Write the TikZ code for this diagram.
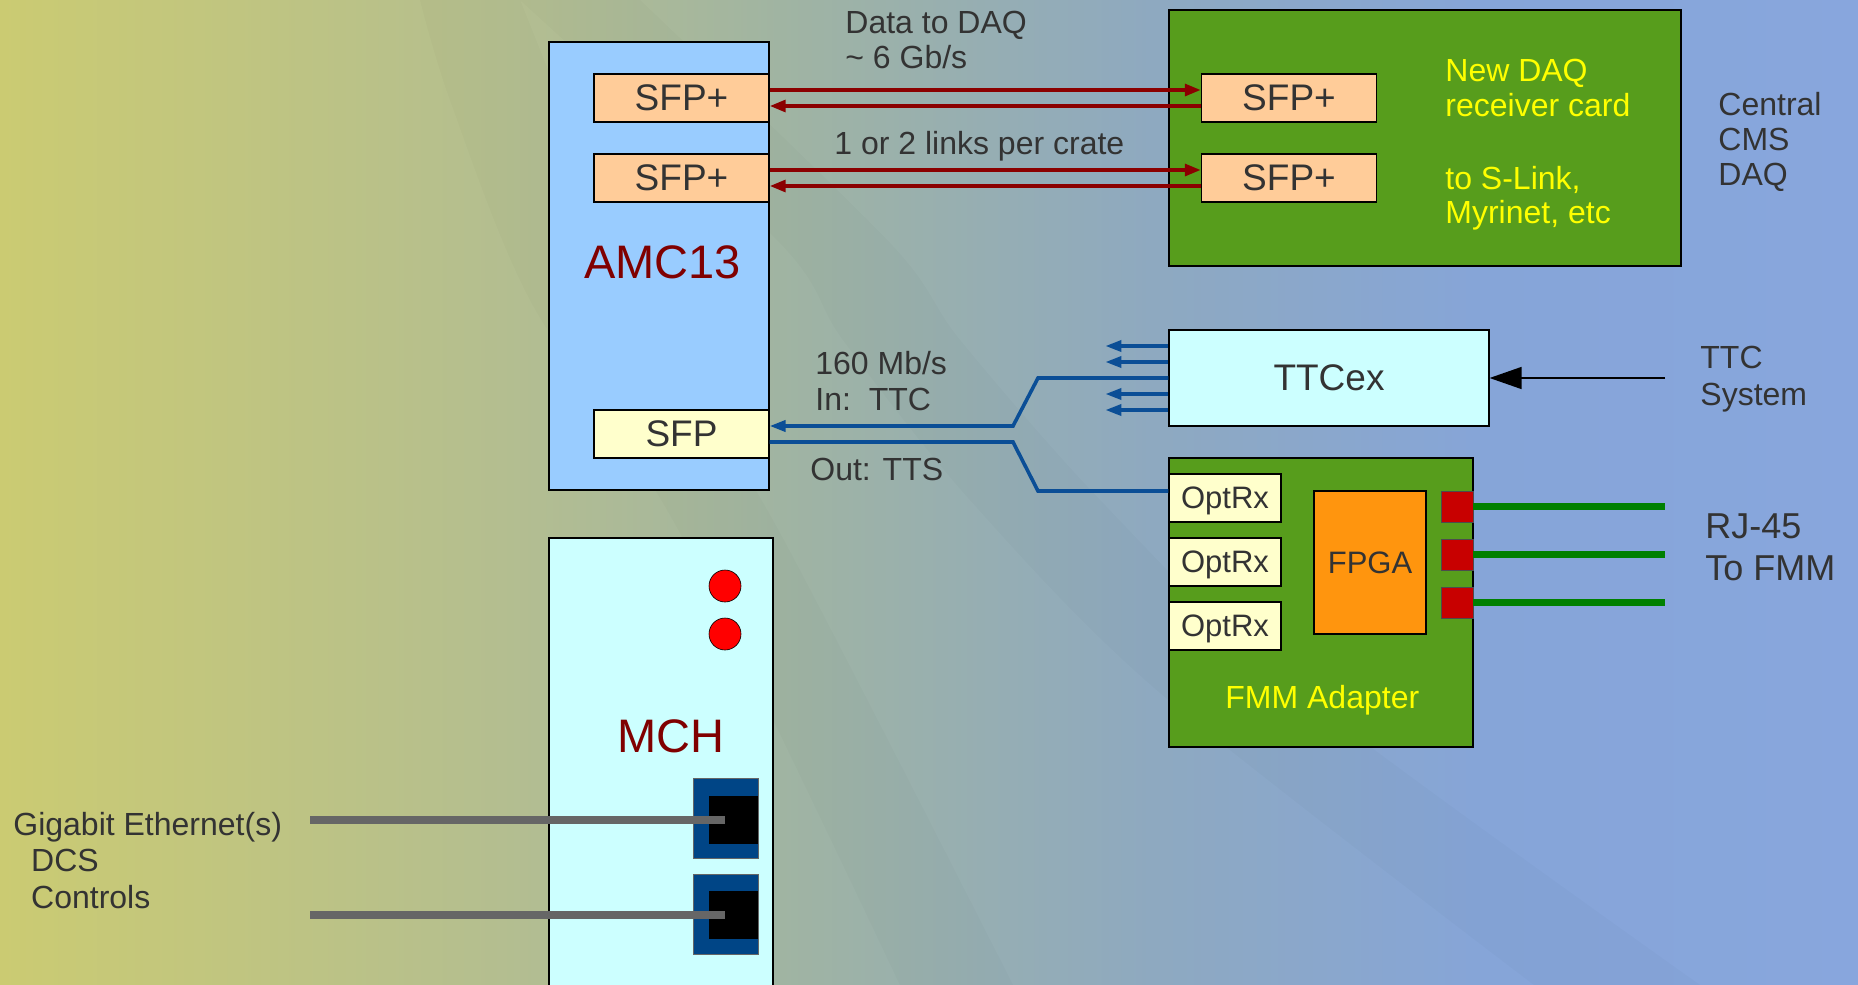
\documentclass[tikz,border=0pt]{standalone}
\usepackage{fontspec}
\setmainfont{Liberation Sans}
\usetikzlibrary{arrows.meta,calc}
\definecolor{bg0}{HTML}{CBCB72}
\definecolor{bg1}{HTML}{B2BD92}
\definecolor{bg2}{HTML}{A0B4A2}
\definecolor{bg3}{HTML}{8EA9C0}
\definecolor{bg4}{HTML}{86A5D8}
\definecolor{bg5}{HTML}{88A6DD}
\definecolor{txt}{HTML}{333333}
\definecolor{darkred}{HTML}{800000}
\definecolor{arrred}{HTML}{8B0000}
\definecolor{amcblue}{HTML}{99CCFF}
\definecolor{sfpor}{HTML}{FFCC99}
\definecolor{sfpyel}{HTML}{FFFFCC}
\definecolor{daqgreen}{HTML}{579D1C}
\definecolor{cyanl}{HTML}{CCFFFF}
\definecolor{fpgaor}{HTML}{FF950E}
\definecolor{rjred}{HTML}{C80000}
\definecolor{blueline}{HTML}{0B4E96}
\definecolor{connblue}{HTML}{004586}
\definecolor{cablegray}{HTML}{666666}
\definecolor{cablegreen}{HTML}{008000}
\definecolor{yel}{HTML}{FFFF00}
\pgfdeclarehorizontalshading{bgshade}{100bp}{color(0bp)=(bg0); color(25bp)=(bg0); color(39.5bp)=(bg1); color(46bp)=(bg2); color(56bp)=(bg3); color(65bp)=(bg4); color(75bp)=(bg5); color(100bp)=(bg5)}
\newcommand\mlines[1]{\begin{tabular}[t]{@{}l@{}}#1\end{tabular}}
\begin{document}
\begin{tikzpicture}[x=0.5pt,y=-0.5pt,
  box/.style={draw=black,line width=0.6pt,inner sep=0pt,text depth=0pt,text=txt},
  board/.style={draw=black,line width=0.6pt,inner sep=0pt},
  sfpbox/.style={box,fill=sfpor,minimum width=87.5pt,minimum height=24pt,font=\fontsize{18.5}{20}\selectfont},
  optbox/.style={box,fill=sfpyel,minimum width=56pt,minimum height=24pt,font=\fontsize{15.5}{18}\selectfont},
  rjbox/.style={fill=rjred,draw=black!70,line width=0.3pt,minimum width=16pt,minimum height=15.5pt,inner sep=0pt},
  lbl/.style={anchor=base west,inner sep=0pt,text=txt,font=\fontsize{16}{17.75}\selectfont},
  ylbl/.style={lbl,text=yel},
  title/.style={anchor=base west,inner sep=0pt,text=darkred,font=\fontsize{23.5}{26}\selectfont},
  redarr/.style={draw=arrred,line width=1.9pt,-{Triangle[length=8pt,width=5.8pt]}},
  bline/.style={draw=blueline,line width=1.8pt},
  barr/.style={bline,-{Triangle[length=8pt,width=5.5pt]}},
  led/.style={circle,fill=red,draw=black,line width=0.3pt,minimum size=16pt,inner sep=0pt},
  graycable/.style={draw=cablegray,line width=3.8pt},
  greencable/.style={draw=cablegreen,line width=3.5pt},
  swoosh/.style={fill=black,opacity=0.016}
]
\useasboundingbox (0,0) rectangle (1858,985);
\clip (0,0) rectangle (1858,985);
\shade[shading=bgshade] (0,0) rectangle (1858,985);
% faint background swooshes
\fill[swoosh] plot[smooth] coordinates {(520,0) (780,243) (843,340) (970,500) (1160,693) (1534,985)}
  -- plot[smooth] coordinates {(1700,985) (1300,693) (1100,500) (960,340) (890,243) (640,0)} -- cycle;
\fill[swoosh] plot[smooth] coordinates {(1013,985) (780,533) (640,300) (560,100) (520,0)}
  -- plot[smooth] coordinates {(420,0) (450,100) (530,300) (680,533) (900,985)} -- cycle;

% AMC13
\node[board,fill=amcblue,minimum width=110pt,minimum height=224pt] (amc) at (659,266) {};
\node[title] (amclbl) at (584,278) {AMC13};
\node[sfpbox] (sA1) at (681.5,98) {SFP+};
\node[sfpbox] (sA2) at (681.5,178) {SFP+};
\node[sfpbox,fill=sfpyel] (sfp) at (681.5,434) {SFP};

% DAQ receiver
\node[board,fill=daqgreen,minimum width=256pt,minimum height=128pt] (daq) at (1425,138) {};
\node[sfpbox] (sD1) at (1289,98) {SFP+};
\node[sfpbox] (sD2) at (1289,178) {SFP+};
\node[ylbl] (newdaq) at (1445,81) {\mlines{New DAQ\\receiver card}};
\node[ylbl,font=\fontsize{16}{17}\selectfont] (slink) at (1445,189) {\mlines{to S-Link,\\Myrinet, etc}};
\node[lbl,font=\fontsize{16}{17.5}\selectfont] (central) at (1718,115) {\mlines{Central\\CMS\\DAQ}};

% data links
\node[lbl,font=\fontsize{16}{17.5}\selectfont] (datalbl) at (845,33) {\mlines{Data to DAQ\\\textasciitilde\ 6 Gb/s}};
\node[lbl] (linkslbl) at (834,154) {1 or 2 links per crate};
\draw[redarr] ([yshift=4pt]sA1.east) -- ([yshift=4pt]sD1.west);
\draw[redarr] ([yshift=-4pt]sD1.west) -- ([yshift=-4pt]sA1.east);
\draw[redarr] ([yshift=4pt]sA2.east) -- ([yshift=4pt]sD2.west);
\draw[redarr] ([yshift=-4pt]sD2.west) -- ([yshift=-4pt]sA2.east);

% TTCex
\node[box,fill=cyanl,minimum width=160pt,minimum height=48pt,font=\fontsize{18.5}{20}\selectfont] (ttcex) at (1329,378) {TTCex};
\coordinate (ttcsrc) at (1665,378);
\draw[line width=0.7pt,-{Triangle[length=16pt,width=11pt]}] (ttcsrc) -- (ttcex.east);
\node[lbl,font=\fontsize{16}{18.5}\selectfont] (ttcsys) at (1700,368) {\mlines{TTC\\System}};
\foreach \s in {16,8,-8,-16}
  \draw[barr] ([yshift=\s pt]ttcex.west) -- ++(-63,0);

% FMM adapter
\node[board,fill=daqgreen,minimum width=152pt,minimum height=144.5pt] (fmm) at (1321,602.5) {};
\node[optbox] (opt1) at (1225,498) {OptRx};
\node[optbox] (opt2) at (1225,562) {OptRx};
\node[optbox] (opt3) at (1225,626) {OptRx};
\node[box,fill=fpgaor,minimum width=56pt,minimum height=71.5pt,font=\fontsize{15.5}{18}\selectfont] (fpga) at (1370,562.5) {FPGA};
\node[rjbox] (rj1) at (1457,506.5) {};
\node[rjbox] (rj2) at (1457,554.5) {};
\node[rjbox] (rj3) at (1457,602.5) {};
\node[ylbl] (fmmlbl) at (1225,708) {FMM Adapter};
\coordinate (rjend1) at (1665,506.5);
\coordinate (rjend2) at (1665,554.5);
\coordinate (rjend3) at (1665,602.5);
\draw[greencable] (rj1.east) -- (rjend1);
\draw[greencable] (rj2.east) -- (rjend2);
\draw[greencable] (rj3.east) -- (rjend3);
\node[lbl,font=\fontsize{18}{21}\selectfont] (rjlbl) at (1705,538) {\mlines{RJ-45\\To FMM}};

% TTC / TTS links
\coordinate (ttcb1) at (1038,378);
\coordinate (ttcb2) at (1013,426);
\draw[barr] (ttcex.west) -- (ttcb1) -- (ttcb2) -- ([yshift=4pt]sfp.east);
\coordinate (ttsb1) at (1013,442);
\coordinate (ttsb2) at (1038,491);
\draw[bline] ([yshift=-4pt]sfp.east) -- (ttsb1) -- (ttsb2) -- (ttsb2 -| opt1.west);
\node[lbl,font=\fontsize{16}{18}\selectfont] (ratelbl) at (815,374) {\mlines{160 Mb/s\\In:\ \ TTC}};
\node[lbl] (outlbl) at (810,480) {Out: TTS};

% MCH
\node[board,fill=cyanl,minimum width=112pt,minimum height=231pt] (mch) at (661,769) {};
\node[led] (led1) at (725,586) {};
\node[led] (led2) at (725,634) {};
\node[title] (mchlbl) at (617,752) {MCH};
\node[fill=connblue,draw=black!60,line width=0.3pt,minimum width=32.5pt,minimum height=40pt,inner sep=0pt] (eth1) at (725.5,818) {};
\node[fill=black,minimum width=24.5pt,minimum height=24pt,inner sep=0pt] (ethin1) at (733.5,820) {};
\node[fill=connblue,draw=black!60,line width=0.3pt,minimum width=32.5pt,minimum height=40pt,inner sep=0pt] (eth2) at (725.5,914.5) {};
\node[fill=black,minimum width=24.5pt,minimum height=24pt,inner sep=0pt] (ethin2) at (733.5,915) {};
\coordinate (gcab1) at (310,820);
\coordinate (gcab2) at (310,915);
\draw[graycable] (gcab1) -- ([xshift=-4.25pt]ethin1.center);
\draw[graycable] (gcab2) -- ([xshift=-4.25pt]ethin2.center);
\node[lbl,font=\fontsize{16}{18.25}\selectfont] (gbe) at (13,835) {\mlines{Gigabit Ethernet(s)\\\ \ DCS\\\ \ Controls}};
\end{tikzpicture}
\end{document}
